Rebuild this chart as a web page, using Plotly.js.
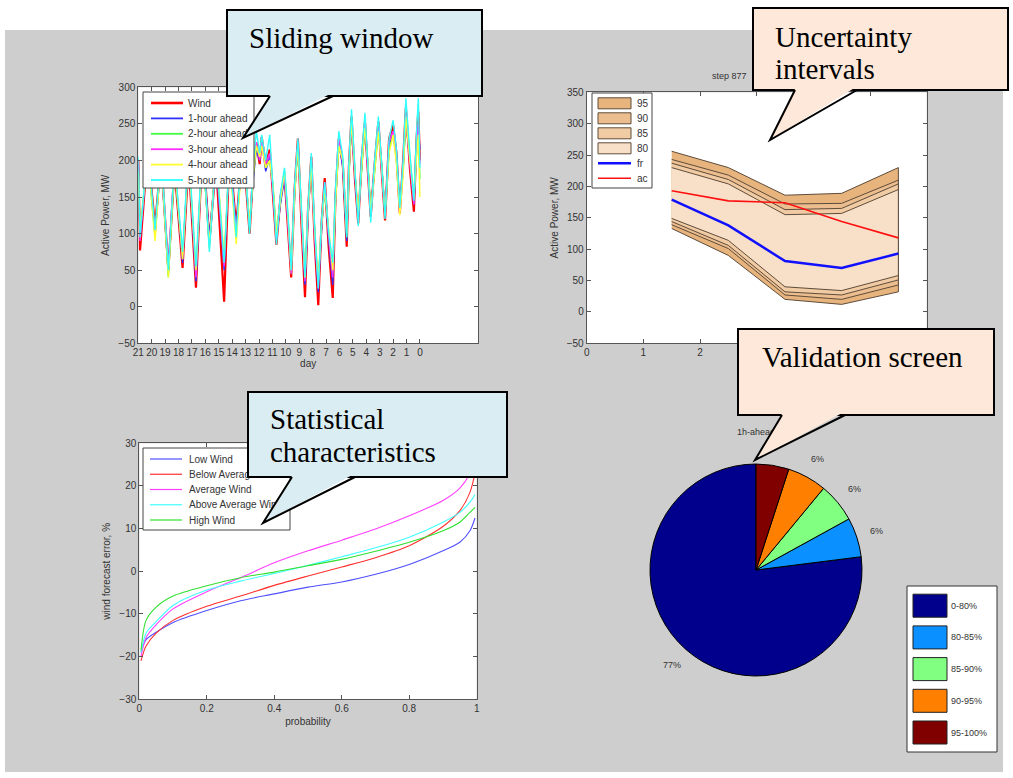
<!DOCTYPE html>
<html>
<head>
<meta charset="utf-8">
<script src="https://cdn.plot.ly/plotly-3.0.1.min.js"></script>
<style>
html,body{margin:0;padding:0;background:#fff;}
#wrap{position:relative;width:1013px;height:778px;}
#chart,#overlay{position:absolute;left:0;top:0;width:1013px;height:778px;}
#overlay{pointer-events:none;}
</style>
</head>
<body>
<div id="wrap"><div id="chart"></div><div id="overlay"></div></div>
<script>
// ---------- DATA ----------
// Sliding window (days before now)
const days = [21, 20.87, 20.3, 19.75, 19.3, 18.76, 18.3, 17.7, 17.25, 16.7, 16.2, 15.7, 15.2, 14.6, 14.2, 13.7, 13.2, 12.7, 12.45, 12.2, 11.95, 11.8, 11.5, 11.2, 10.95, 10.7, 10.4, 10.1, 9.85, 9.6, 9.35, 9.1, 8.85, 8.57, 8.35, 8.1, 7.85, 7.58, 7.35, 7.1, 6.8, 6.5, 6.3, 6.05, 5.75, 5.46, 5.3, 5.1, 4.85, 4.6, 4.35, 4.1, 3.9, 3.67, 3.4, 3.1, 2.85, 2.6, 2.3, 2.0, 1.75, 1.5, 1.25, 1.05, 0.75, 0.45, 0.25, 0.12, 0];
const windActual = [200, 77, 215, 110, 205, 50, 190, 53, 200, 26, 225, 90, 195, 7, 215, 110, 225, 100, 180, 225, 195, 232, 195, 215, 150, 85, 150, 180, 110, 40, 160, 230, 120, 13, 130, 205, 90, 2, 110, 176, 80, 12, 150, 230, 195, 82, 190, 260, 175, 114, 200, 253, 190, 123, 190, 253, 185, 118, 230, 248, 210, 128, 200, 272, 190, 130, 230, 267, 200];
const ahead1 = [195, 95, 210, 100, 200, 45, 195, 60, 205, 35, 220, 95, 200, 50, 210, 105, 220, 110, 170, 215, 200, 225, 185, 205, 160, 95, 140, 175, 120, 50, 150, 225, 130, 30, 120, 200, 100, 20, 100, 170, 90, 30, 140, 225, 190, 90, 180, 250, 180, 120, 190, 245, 195, 130, 185, 245, 190, 125, 220, 240, 205, 135, 190, 255, 200, 140, 215, 245, 215];
const ahead2 = [190, 100, 205, 95, 210, 40, 190, 70, 210, 45, 215, 80, 205, 60, 205, 95, 230, 105, 175, 220, 205, 230, 190, 200, 165, 100, 145, 185, 125, 45, 155, 220, 135, 40, 125, 195, 105, 30, 105, 165, 100, 45, 145, 220, 200, 95, 175, 255, 185, 125, 185, 250, 200, 135, 180, 240, 195, 130, 215, 235, 200, 140, 185, 260, 205, 145, 210, 240, 175];
const ahead3 = [200, 90, 215, 100, 200, 55, 200, 65, 210, 40, 220, 85, 200, 55, 210, 100, 225, 110, 185, 225, 200, 225, 195, 210, 155, 90, 150, 180, 115, 45, 160, 225, 125, 35, 125, 200, 95, 25, 105, 170, 95, 40, 150, 230, 195, 100, 185, 250, 180, 120, 195, 250, 190, 125, 190, 245, 185, 130, 225, 240, 205, 130, 195, 265, 195, 140, 220, 250, 195];
const ahead4 = [185, 105, 210, 90, 205, 40, 195, 65, 205, 50, 215, 85, 210, 70, 205, 85, 225, 115, 175, 220, 205, 220, 190, 200, 165, 100, 145, 185, 125, 50, 150, 220, 135, 40, 130, 195, 105, 35, 110, 160, 105, 50, 140, 220, 200, 100, 180, 255, 185, 130, 190, 245, 200, 130, 180, 240, 190, 125, 210, 235, 195, 125, 180, 260, 200, 150, 205, 235, 150];
const ahead5 = [205, 95, 220, 105, 215, 50, 200, 75, 215, 55, 230, 75, 210, 60, 215, 95, 250, 100, 190, 240, 210, 235, 200, 235, 160, 85, 155, 190, 130, 50, 165, 230, 140, 40, 135, 210, 110, 25, 115, 170, 100, 60, 160, 240, 205, 95, 195, 270, 190, 110, 205, 265, 200, 115, 195, 260, 195, 120, 230, 255, 215, 135, 200, 285, 210, 145, 240, 285, 190];
const windNames = ['Wind', '1-hour ahead', '2-hour ahead', '3-hour ahead', '4-hour ahead', '5-hour ahead'];
const dayTicks = [21,20,19,18,17,16,15,14,13,12,11,10,9,8,7,6,5,4,3,2,1,0];

// Uncertainty intervals (step 877)
const steps = [1.5, 2.5, 3.5, 4.5, 5.5];
const levels = ['95', '90', '85', '80'];
const upper95 = [256, 230, 186, 189, 230];
const lower95 = [133, 90, 20, 12, 32];
const upper90 = [243, 218, 172, 173, 210];
const lower90 = [139, 101, 27, 20, 43];
const upper85 = [237, 211, 163, 165, 204];
const lower85 = [144, 106, 32, 27, 51];
const upper80 = [230, 204, 155, 157, 195];
const lower80 = [149, 114, 40, 34, 58];
const forecastFr = [179, 138, 81, 70, 93];
const actualAc = [193, 177, 174, 144, 118];
const stepTicks = [0, 1, 2, 3, 4, 5, 6];

// Statistical characteristics
const prob = [0.005, 0.02, 0.05, 0.1, 0.2, 0.3, 0.4, 0.5, 0.6, 0.7, 0.8, 0.9, 0.95, 0.98, 0.995];
const lowWind = [-19, -16, -14.3, -12, -9.2, -6.9, -5.3, -3.7, -2.5, -0.7, 1.6, 4.8, 6.8, 9.5, 12.5];
const belowAvgWind = [-21, -17.5, -14.5, -11.5, -8.2, -5.8, -3.3, -1.1, 1.0, 3.2, 6.0, 10.5, 14.2, 18.5, 23];
const avgWind = [-20, -15.5, -12.5, -8.8, -4.8, -1.5, 2.0, 4.8, 7.3, 9.9, 13, 16.6, 19.5, 23, 27];
const aboveAvgWind = [-19, -14.5, -11.8, -8, -4.4, -2.3, -0.5, 1.4, 3.4, 5.5, 8, 11.5, 13.8, 16.2, 18];
const highWind = [-18.5, -11.5, -8.4, -5.8, -3.4, -1.5, -0.2, 1.3, 2.8, 4.7, 6.8, 9.5, 11.5, 13.8, 15];
const statNames = ['Low Wind', 'Below Average Wind', 'Average Wind', 'Above Average Wind', 'High Wind'];

// Validation screen (1h-ahead)
const pieLabels = ['0-80%', '80-85%', '85-90%', '90-95%', '95-100%'];
const pieValues = [77, 6, 6, 6, 5];

// ---------- STYLE ----------
const W = 1013, H = 778;
const px = x => x / W;
const py = y => 1 - y / H;
const TF = 'Liberation Sans, Arial, sans-serif';
const SF = 'Liberation Serif, Times New Roman, serif';
const windColors = ['#ff0000', '#3030ff', '#40ff40', '#ff30ff', '#ffff30', '#30ffff'];
const windWidths = [2.2, 1.4, 1.4, 1.4, 1.4, 1.4];
const bandColors = ['#e8b47e', '#ecbe8f', '#f1cba3', '#f8e0c8'];
const bandEdge = '#5e4c3a';
const statColors = ['#5050ff', '#ff3030', '#ff40ff', '#40ffff', '#30e030'];
const pieColors = ['#00008c', '#0a90ff', '#80ff80', '#ff7f00', '#800000'];
const txt = (s) => ({family: TF, size: s, color: '#333'});

const traces = [];
[windActual, ahead1, ahead2, ahead3, ahead4, ahead5].forEach((s, i) => {
  traces.push({type: 'scatter', mode: 'lines', x: days, y: s, name: windNames[i],
    line: {color: windColors[i], width: windWidths[i]}, xaxis: 'x', yaxis: 'y'});
});
const bands = [[upper95, lower95], [upper90, lower90], [upper85, lower85], [upper80, lower80]];
bands.forEach((b, i) => {
  traces.push({type: 'scatter', mode: 'lines', fill: 'toself',
    x: steps.concat(steps.slice().reverse()),
    y: b[0].concat(b[1].slice().reverse()),
    name: levels[i], fillcolor: bandColors[i], line: {color: bandEdge, width: 1},
    xaxis: 'x2', yaxis: 'y2'});
});
traces.push({type: 'scatter', mode: 'lines', x: steps, y: forecastFr, name: 'fr',
  line: {color: '#1010ff', width: 2.5}, xaxis: 'x2', yaxis: 'y2'});
traces.push({type: 'scatter', mode: 'lines', x: steps, y: actualAc, name: 'ac',
  line: {color: '#ff1010', width: 1.6}, xaxis: 'x2', yaxis: 'y2'});

[lowWind, belowAvgWind, avgWind, aboveAvgWind, highWind].forEach((s, i) => {
  traces.push({type: 'scatter', mode: 'lines', x: prob, y: s, name: statNames[i],
    line: {color: statColors[i], width: 1.1, shape: 'spline', smoothing: 0.8},
    xaxis: 'x3', yaxis: 'y3'});
});

// pie: first slice sits counter-clockwise from 12 o'clock, the rest follow clockwise back to it
const pieDom = {x0: 650, x1: 862, y0: 464, y1: 676};
const total = pieValues.reduce((a, b) => a + b, 0);
traces.push({type: 'pie', labels: pieLabels, values: pieValues, sort: false,
  direction: 'counterclockwise', rotation: 360 * (total - pieValues[0]) / total,
  textinfo: 'none', hoverinfo: 'none',
  marker: {colors: pieColors, line: {color: '#000', width: 1}}, showlegend: false,
  domain: {x: [px(pieDom.x0), px(pieDom.x1)], y: [py(pieDom.y1), py(pieDom.y0)]}});

function axisBase(extra) {
  return Object.assign({
    showline: true, mirror: 'allticks', linecolor: '#555', linewidth: 1,
    ticks: 'inside', ticklen: 4, tickcolor: '#555', showgrid: false, zeroline: false,
    tickfont: txt(10), tickangle: 0, fixedrange: true
  }, extra);
}

const annotations = [];
const shapes = [
  // white margins around the gray figure area
  {type: 'rect', xref: 'paper', yref: 'paper', x0: 0, x1: 1, y0: py(30), y1: 1, fillcolor: '#fff', line: {width: 0}, layer: 'below'},
  {type: 'rect', xref: 'paper', yref: 'paper', x0: 0, x1: px(5), y0: 0, y1: 1, fillcolor: '#fff', line: {width: 0}, layer: 'below'},
  {type: 'rect', xref: 'paper', yref: 'paper', x0: px(1003), x1: 1, y0: 0, y1: 1, fillcolor: '#fff', line: {width: 0}, layer: 'below'},
  {type: 'rect', xref: 'paper', yref: 'paper', x0: 0, x1: 1, y0: 0, y1: py(772), fillcolor: '#fff', line: {width: 0}, layer: 'below'}
];
function rectPx(x0, y0, x1, y1, fill, lineColor, lw) {
  shapes.push({type: 'rect', xref: 'paper', yref: 'paper', layer: 'above', x0: px(x0), x1: px(x1), y0: py(y1), y1: py(y0),
    fillcolor: fill, line: lineColor ? {color: lineColor, width: lw || 1} : {width: 0}});
}
function linePx(x0, y0, x1, y1, color, w) {
  shapes.push({type: 'line', xref: 'paper', yref: 'paper', layer: 'above', x0: px(x0), x1: px(x1), y0: py(y0), y1: py(y1),
    line: {color: color, width: w}});
}
function label(x, y, text, size, anchor) {
  annotations.push({xref: 'paper', yref: 'paper', x: px(x), y: py(y), xanchor: anchor || 'left', yanchor: 'middle',
    text: text, showarrow: false, font: txt(size)});
}

// legend: sliding window
rectPx(143, 92, 254, 188, '#fff', '#444', 1);
windNames.forEach((n, i) => {
  const yc = 103 + i * 15.4;
  linePx(151, yc, 183, yc, windColors[i], windWidths[i] + 0.4);
  label(186, yc, n, 10);
});
// legend: uncertainty intervals
rectPx(592, 93, 652, 188, '#fff', '#444', 1);
levels.forEach((n, i) => {
  const yc = 103.3 + i * 15;
  rectPx(598, yc - 5.5, 631, yc + 5.5, bandColors[i], bandEdge, 1);
  label(634.5, yc, n, 10);
});
[['fr', '#1010ff', 2.5], ['ac', '#ff1010', 1.6]].forEach((e, j) => {
  const yc = 103.3 + (levels.length + j) * 15;
  linePx(598, yc, 631, yc, e[1], e[2]);
  label(634.5, yc, e[0], 10);
});
// legend: statistical characteristics
rectPx(143, 448, 290, 530, '#fff', '#444', 1);
statNames.forEach((n, i) => {
  const yc = 459 + i * 15.25;
  linePx(150, yc, 182, yc, statColors[i], 1.2);
  label(186.5, yc, n, 10);
});
// legend: pie
rectPx(907, 586, 997, 752, '#fff', '#333', 1);
pieLabels.forEach((lab, i) => {
  const yc = 605.7 + i * 31.7;
  rectPx(913, yc - 11.5, 947, yc + 11.5, pieColors[i], '#222', 1);
  label(949, yc, lab, 9);
});

// pie percentage labels at 1.2 radius, from data
const cx = (pieDom.x0 + pieDom.x1) / 2, cy = (pieDom.y0 + pieDom.y1) / 2, R = (pieDom.x1 - pieDom.x0) / 2;
let cum = 0;
pieValues.forEach((v) => {
  const mid = (cum + v / 2) / total * 2 * Math.PI;
  cum += v;
  label(cx - 1.2 * R * Math.sin(mid), cy - 1.2 * R * Math.cos(mid), Math.round(v / total * 100) + '%', 9, 'center');
});
label(cx, 432, '1h-ahead', 9, 'center');
label(710, 76, 'step 877', 9, 'left');

const layout = {
  width: W, height: H, autosize: false, margin: {l: 0, r: 0, t: 0, b: 0},
  paper_bgcolor: '#cecece', plot_bgcolor: '#fff', showlegend: false,
  xaxis: axisBase({domain: [px(138.3), px(478)], range: [21, -4.33], tickvals: dayTicks, ticktext: dayTicks.map(String),
    anchor: 'y', title: {text: 'day', font: txt(10), standoff: 2}}),
  yaxis: axisBase({domain: [py(343.3), py(87.3)], range: [-50, 300], dtick: 50, anchor: 'x',
    title: {text: 'Active Power, MW', font: txt(10), standoff: 6}}),
  xaxis2: axisBase({domain: [px(586.7), px(926.7)], range: [0, 6], tickvals: stepTicks,
    ticktext: stepTicks.map(v => v <= 2 ? String(v) : ''), anchor: 'y2'}),
  yaxis2: axisBase({domain: [py(343.3), py(92.3)], range: [-50, 350], dtick: 50, anchor: 'x2',
    title: {text: 'Active Power, MW', font: txt(10), standoff: 6}}),
  xaxis3: axisBase({domain: [px(139.3), px(476.7)], range: [0, 1], dtick: 0.2, anchor: 'y3',
    title: {text: 'probability', font: txt(10), standoff: 4}}),
  yaxis3: axisBase({domain: [py(699.3), py(443.3)], range: [-30, 30], dtick: 10, anchor: 'x3',
    title: {text: 'wind forecast error, %', font: txt(10), standoff: 6}}),
  annotations: annotations, shapes: shapes
};

Plotly.newPlot('chart', traces, layout, {staticPlot: true, displayModeBar: false});

// ---------- CALLOUTS (overlay) ----------
const callouts = [
  {box: [227, 10, 482, 96], base: [270, 333], tip: [243, 138], fill: '#daedf3', lines: [['Sliding window', 247, 48]]},
  {box: [753, 8, 1008, 90], base: [795, 857], tip: [770, 140], fill: '#fde8d9', lines: [['Uncertainty', 773, 47], ['intervals', 773, 79]]},
  {box: [738, 329, 994, 415], base: [782, 845], tip: [755, 460], fill: '#fde8d9', lines: [['Validation screen', 760, 367]]},
  {box: [248, 392, 507, 477], base: [292, 355], tip: [263, 523], fill: '#daedf3', lines: [['Statistical', 268, 429], ['characteristics', 268, 462]]}
];
const oShapes = [], oAnn = [];
callouts.forEach(c => {
  const [x0, y0, x1, y1] = c.box;
  oShapes.push({type: 'rect', xref: 'paper', yref: 'paper', x0: px(x0), x1: px(x1), y0: py(y1), y1: py(y0),
    fillcolor: c.fill, line: {color: '#000', width: 2}});
  const p = (x, y) => px(x).toFixed(5) + ',' + py(y).toFixed(5);
  oShapes.push({type: 'path', xref: 'paper', yref: 'paper',
    path: 'M' + p(c.base[0] + 1, y1 - 3) + ' L' + p(c.tip[0], c.tip[1]) + ' L' + p(c.base[1] - 1, y1 - 3) + ' Z',
    fillcolor: c.fill, line: {width: 0}});
  oShapes.push({type: 'path', xref: 'paper', yref: 'paper',
    path: 'M' + p(c.base[0], y1) + ' L' + p(c.tip[0], c.tip[1]) + ' L' + p(c.base[1], y1),
    line: {color: '#000', width: 2}});
  c.lines.forEach(l => {
    oAnn.push({xref: 'paper', yref: 'paper', x: px(l[1]), y: py(l[2] - 0.34 * 29), xanchor: 'left', yanchor: 'middle',
      text: l[0], showarrow: false, font: {family: SF, size: 29, color: '#000'}});
  });
});
Plotly.newPlot('overlay', [], {
  width: W, height: H, autosize: false, margin: {l: 0, r: 0, t: 0, b: 0},
  paper_bgcolor: 'rgba(0,0,0,0)', plot_bgcolor: 'rgba(0,0,0,0)',
  xaxis: {visible: false}, yaxis: {visible: false}, shapes: oShapes, annotations: oAnn
}, {staticPlot: true, displayModeBar: false});
</script>
</body>
</html>
